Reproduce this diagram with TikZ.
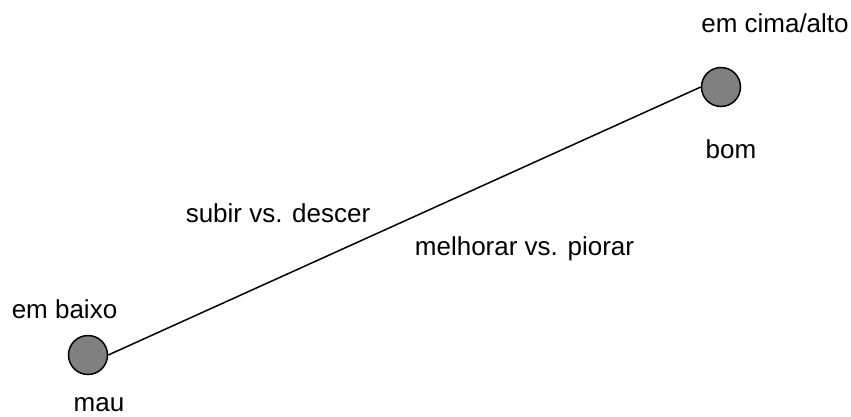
\documentclass[tikz,border=0pt]{standalone}
\usepackage{fontspec}
\setmainfont{Liberation Sans}
\definecolor{dotgray}{HTML}{808080}
\begin{document}
\begin{tikzpicture}[x=1pt,y=-1pt,
  dot/.style={circle,draw=black,fill=dotgray,line width=1.5pt,minimum size=39pt,inner sep=0pt},
  lbl/.style={inner sep=0pt,anchor=base,font=\fontsize{26}{31}\selectfont},
  link/.style={line width=1.5pt}]
\useasboundingbox (0,0) rectangle (851,416);
\node[dot] (good) at (721,87) {};
\node[dot] (bad) at (88,355) {};
\draw[link] (bad.east) -- (good.west);
\node[lbl] (top) at (775,32) {em cima/alto};
\node[lbl] (bom) at (731,158) {bom};
\node[lbl] (sub) at (278,222) {subir vs. descer};
\node[lbl] (mel) at (524.5,255) {melhorar vs. piorar};
\node[lbl] (low) at (64.5,318) {em baixo};
\node[lbl] (mau) at (99,411) {mau};
\end{tikzpicture}
\end{document}
